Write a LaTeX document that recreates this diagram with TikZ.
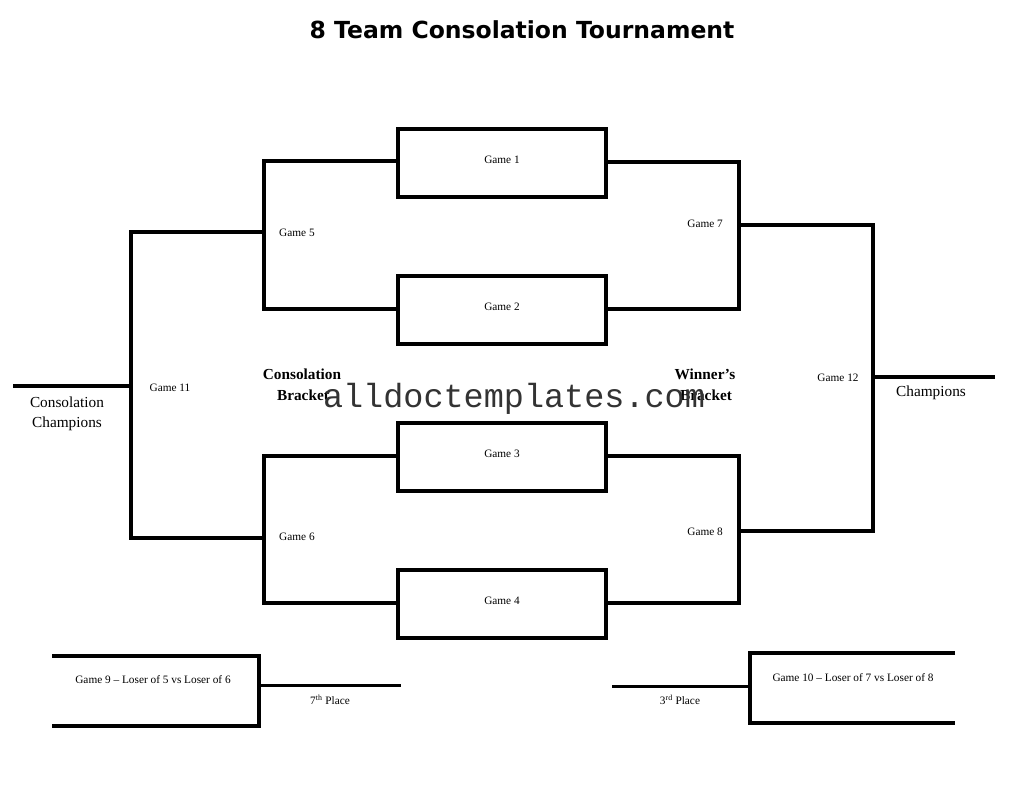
\documentclass[tikz,border=0pt]{standalone}
\usepackage{fontspec}
\setmainfont{Liberation Serif}
\newfontfamily\titlefont{DejaVu Sans}
\newfontfamily\wmfont{Liberation Mono}
\begin{document}
\begin{tikzpicture}[x=1pt,y=-1pt,
  line join=miter,
  bline/.style={line width=4pt},
  tline/.style={line width=3pt},
  gamebox/.style={draw,line width=4pt,minimum width=208pt,minimum height=68pt,inner sep=0pt},
  small/.style={font=\fontsize{11.3}{13}\selectfont,inner sep=0pt},
  big/.style={font=\fontsize{15.3}{20}\selectfont,inner sep=0pt,align=center},
  bigbold/.style={font=\fontsize{15.3}{20}\selectfont\bfseries,inner sep=0pt,align=center}]
\useasboundingbox (0,0) rectangle (1026,793);
\fill[white] (0,0) rectangle (1026,793);

% title
\node[inner sep=0pt,font=\titlefont\bfseries\fontsize{23.5}{28}\selectfont] (title) at (522,30) {8 Team Consolation Tournament};

% first round boxes
\node[gamebox] (g1) at (502,163) {};
\node[gamebox] (g2) at (502,310) {};
\node[gamebox] (g3) at (502,457) {};
\node[gamebox] (g4) at (502,604) {};
\node[small] (t1) at (502,160) {Game 1};
\node[small] (t2) at (502,307) {Game 2};
\node[small] (t3) at (502,454) {Game 3};
\node[small] (t4) at (502,601) {Game 4};

% game 5 / 6 (left)
\draw[bline] ([yshift=2pt]g1.west) -- ++(-132,0) |- ([yshift=1pt]g2.west);
\draw[bline] ([yshift=1pt]g3.west) -- ++(-132,0) |- ([yshift=1pt]g4.west);
\node[small,anchor=west] (t5) at (279,233) {Game 5};
\node[small,anchor=west] (t6) at (279,537) {Game 6};

% game 7 / 8 (right)
\draw[bline] ([yshift=1pt]g1.east) -- ++(131,0) |- ([yshift=1pt]g2.east);
\draw[bline] ([yshift=1pt]g3.east) -- ++(131,0) |- ([yshift=1pt]g4.east);
\node[small,anchor=east] (t7) at (723,224) {Game 7};
\node[small,anchor=east] (t8) at (723,532) {Game 8};

% game 11
\coordinate (g5m) at (264,232);
\coordinate (g6m) at (264,538);
\coordinate (c11) at (131,386);
\coordinate (cc) at (13,386);
\draw[bline] (g5m) -| (c11) |- (g6m);
\draw[bline] (c11) -- (cc);
\node[small] (t11) at (170,388) {Game 11};
\node[big] (tcc) at (67,414) {Consolation\\Champions};

% game 12
\coordinate (g7m) at (739,225);
\coordinate (g8m) at (739,531);
\coordinate (c12) at (873,377);
\coordinate (ch) at (995,377);
\draw[bline] (g7m) -| (c12) |- (g8m);
\draw[bline] (c12) -- (ch);
\node[small] (t12) at (838,378) {Game 12};
\node[big] (tch) at (931,393) {Champions};

% bracket labels
\node[bigbold] (cb1) at (302,374) {Consolation};
\node[bigbold] (cb2) at (303,395) {Bracket};
\node[bigbold] (wb1) at (705,374) {Winner’s};
\node[bigbold] (wb2) at (706,395) {Bracket};

% watermark
\node[inner sep=0pt,text=black!80,font=\wmfont\fontsize{33.5}{36}\selectfont] (wm) at (514,399) {alldoctemplates.com};

% game 9
\coordinate (g9a) at (52,656);
\coordinate (g9b) at (52,726);
\coordinate (g9r) at (259,685);
\coordinate (p7) at (401,685);
\draw[bline] (g9a) -- (259,656) -- (259,726) -- (g9b);
\draw[tline] (g9r) -- (p7);
\node[small] (t9) at (153,680) {Game 9 – Loser of 5 vs Loser of 6};
\node[small] (t7p) at (330,700) {7\textsuperscript{th} Place};

% game 10
\coordinate (g10a) at (955,653);
\coordinate (g10b) at (955,723);
\coordinate (g10l) at (750,686);
\coordinate (p3) at (612,686);
\draw[bline] (g10a) -- (750,653) -- (750,723) -- (g10b);
\draw[tline] (g10l) -- (p3);
\node[small] (t10) at (853,678) {Game 10 – Loser of 7 vs Loser of 8};
\node[small] (t3p) at (680,700) {3\textsuperscript{rd} Place};
\end{tikzpicture}
\end{document}
